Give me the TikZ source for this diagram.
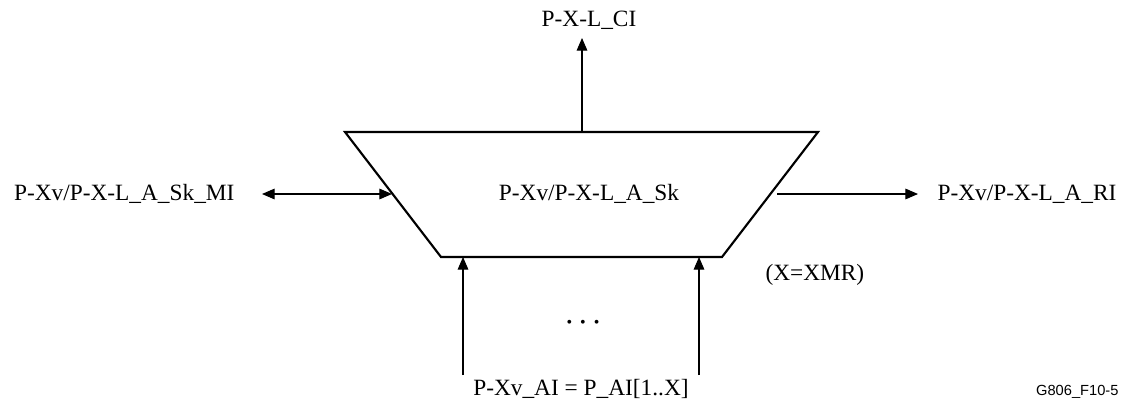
\documentclass[tikz,border=0pt]{standalone}
\usepackage{fontspec}
\setmainfont{Liberation Serif}
\newfontfamily\figfont{Liberation Sans}
\usetikzlibrary{arrows.meta}

\begin{document}
\begin{tikzpicture}[x=0.75pt,y=-0.75pt,line width=0.8pt,
  sig/.style={-{Triangle[length=9.5pt,width=8pt]}},
  bisig/.style={{Triangle[length=9.5pt,width=8pt]}-{Triangle[length=9.5pt,width=8pt]}},
  lbl/.style={inner sep=0pt,font=\fontsize{17.5}{20}\selectfont}]
 \useasboundingbox (0,0) rectangle (1126,403);
 % the sink function
 \coordinate (tl) at (345,132); \coordinate (tr) at (818,132);
 \coordinate (br) at (722,257); \coordinate (bl) at (441,257);
 \draw[line width=1.6pt] (tl)--(tr)--(br)--(bl)--cycle;
 \node[lbl,anchor=base] (sk) at (589,200) {P-Xv/P-X-L\_A\_Sk};
 % characteristic information out
 \node[lbl,anchor=base] (ci) at (589,27) {P-X-L\_CI};
 \coordinate (cio) at (582,132); \coordinate (cit) at (582,38);
 \draw[sig] (cio) -- (cit);
 % management and remote info
 \node[lbl,anchor=base east] (mi) at (235,200) {P-Xv/P-X-L\_A\_Sk\_MI};
 \node[lbl,anchor=base west] (ri) at (937,200) {P-Xv/P-X-L\_A\_RI};
 \coordinate (mit) at (262,194); \coordinate (mie) at (392,194);
 \coordinate (ris) at (777,194); \coordinate (rit) at (918,194);
 \draw[bisig] (mit) -- (mie);
 \draw[sig] (ris) -- (rit);
 % adapted information in
 \node[lbl,anchor=base] (ai) at (581,395) {P-Xv\_AI = P\_AI[1..X]};
 \coordinate (a1) at (463,375); \coordinate (a1t) at (463,257);
 \coordinate (a2) at (699,375); \coordinate (a2t) at (699,257);
 \draw[sig] (a1) -- (a1t);
 \draw[sig] (a2) -- (a2t);
 \node[inner sep=0pt,font=\fontsize{12}{12}\selectfont] (dots) at (583,324)
   {\textbullet\hspace{6pt}\textbullet\hspace{6pt}\textbullet};
 \node[lbl,anchor=base west] (xmr) at (765,280) {(X=XMR)};
 \node[inner sep=0pt,anchor=base east,font=\figfont\fontsize{11}{13}\selectfont] (fig) at (1119,395) {G806\_F10-5};
\end{tikzpicture}
\end{document}
